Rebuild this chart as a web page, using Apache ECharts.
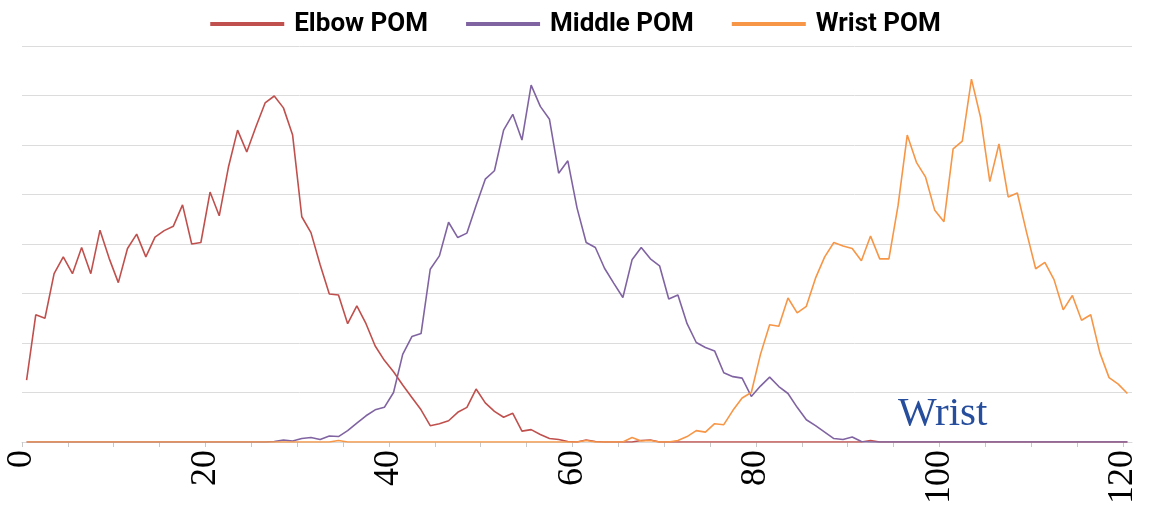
<!DOCTYPE html>
<html>
<head>
<meta charset="utf-8">
<title>POM distribution</title>
<script src="https://cdn.jsdelivr.net/npm/echarts@6/dist/echarts.min.js"></script>
<style>
  html, body { margin: 0; padding: 0; background: #fff; }
  #chart { width: 1151px; height: 507px; }
</style>
</head>
<body>
<div id="chart"></div>
<script>
// Per-bin values (bins 0..120, one unit wide)
const elbowPOM = [
  1.25, 2.57, 2.50, 3.40, 3.74, 3.40, 3.93, 3.40, 4.28, 3.71,
  3.22, 3.91, 4.20, 3.74, 4.14, 4.27, 4.36, 4.79, 4.00, 4.03,
  5.05, 4.57, 5.55, 6.30, 5.86, 6.37, 6.85, 6.99, 6.75, 6.20,
  4.55, 4.23, 3.58, 2.99, 2.97, 2.39, 2.75, 2.39, 1.94, 1.65,
  1.42, 1.15, 0.90, 0.65, 0.33, 0.37, 0.43, 0.60, 0.70, 1.07,
  0.79, 0.62, 0.50, 0.58, 0.22, 0.25, 0.15, 0.07, 0.05, 0.01,
  0.00, 0.04, 0.01, 0.00, 0.00, 0.00, 0.00, 0.03, 0.04, 0.00,
  0.00, 0.00, 0.00, 0.00, 0.00, 0.00, 0.00, 0.00, 0.00, 0.00,
  0.00, 0.00, 0.00, 0.00, 0.00, 0.00, 0.00, 0.00, 0.00, 0.00,
  0.00, 0.00, 0.03, 0.00, 0.00, 0.00, 0.00, 0.00, 0.00, 0.00,
  0.00, 0.00, 0.00, 0.00, 0.00, 0.00, 0.00, 0.00, 0.00, 0.00,
  0.00, 0.00, 0.00, 0.00, 0.00, 0.00, 0.00, 0.00, 0.00, 0.00,
  0.00
];

const middlePOM = [
  0.00, 0.00, 0.00, 0.00, 0.00, 0.00, 0.00, 0.00, 0.00, 0.00,
  0.00, 0.00, 0.00, 0.00, 0.00, 0.00, 0.00, 0.00, 0.00, 0.00,
  0.00, 0.00, 0.00, 0.00, 0.00, 0.00, 0.00, 0.01, 0.04, 0.02,
  0.07, 0.09, 0.05, 0.12, 0.11, 0.23, 0.38, 0.53, 0.65, 0.70,
  1.00, 1.77, 2.13, 2.19, 3.49, 3.76, 4.44, 4.13, 4.22, 4.78,
  5.31, 5.48, 6.30, 6.62, 6.10, 7.21, 6.78, 6.52, 5.43, 5.68,
  4.73, 4.03, 3.93, 3.51, 3.21, 2.92, 3.68, 3.93, 3.70, 3.56,
  2.89, 2.97, 2.39, 2.01, 1.91, 1.84, 1.40, 1.32, 1.29, 0.92,
  1.13, 1.31, 1.12, 0.98, 0.70, 0.45, 0.33, 0.20, 0.07, 0.05,
  0.10, 0.01, 0.00, 0.00, 0.00, 0.00, 0.00, 0.00, 0.00, 0.00,
  0.00, 0.00, 0.00, 0.00, 0.00, 0.00, 0.00, 0.00, 0.00, 0.00,
  0.00, 0.00, 0.00, 0.00, 0.00, 0.00, 0.00, 0.00, 0.00, 0.00,
  0.00
];

const wristPOM = [
  0.00, 0.00, 0.00, 0.00, 0.00, 0.00, 0.00, 0.00, 0.00, 0.00,
  0.00, 0.00, 0.00, 0.00, 0.00, 0.00, 0.00, 0.00, 0.00, 0.00,
  0.00, 0.00, 0.00, 0.00, 0.00, 0.00, 0.00, 0.00, 0.00, 0.00,
  0.00, 0.00, 0.00, 0.00, 0.03, 0.00, 0.00, 0.00, 0.00, 0.00,
  0.00, 0.00, 0.00, 0.00, 0.00, 0.00, 0.00, 0.00, 0.00, 0.00,
  0.00, 0.00, 0.00, 0.00, 0.00, 0.00, 0.00, 0.00, 0.00, 0.00,
  0.00, 0.03, 0.00, 0.00, 0.00, 0.00, 0.09, 0.02, 0.03, 0.00,
  0.00, 0.03, 0.11, 0.23, 0.20, 0.37, 0.35, 0.64, 0.89, 1.00,
  1.77, 2.37, 2.34, 2.91, 2.61, 2.74, 3.31, 3.74, 4.03, 3.96,
  3.91, 3.66, 4.16, 3.70, 3.70, 4.78, 6.20, 5.65, 5.35, 4.68,
  4.45, 5.92, 6.08, 7.33, 6.55, 5.26, 6.02, 4.95, 5.03, 4.24,
  3.50, 3.63, 3.28, 2.67, 2.96, 2.46, 2.57, 1.80, 1.30, 1.17,
  0.98
];

const seriesNames = ['Elbow POM', 'Middle POM', 'Wrist POM'];
const seriesColors = ['#c0504d', '#8064a2', '#f79646'];
const tickValues = [0, 5, 10, 15, 20, 25, 30, 35, 40, 45, 50, 55, 60,
                    65, 70, 75, 80, 85, 90, 95, 100, 105, 110, 115, 120];
const tickLabels = [0, 20, 40, 60, 80, 100, 120];
const highlightedLabel = 100;
const annotationText = 'Wrist';

// each value sits in the middle of its unit-wide bin
const binCenters = elbowPOM.map((_, i) => i + 0.5);
const toPairs = values => values.map((v, i) => [binCenters[i], v]);

const chart = echarts.init(document.getElementById('chart'));

chart.setOption({
  animation: false,
  backgroundColor: '#ffffff',
  color: seriesColors,
  legend: {
    top: 6,
    left: 'center',
    icon: 'rect',
    itemWidth: 74,
    itemHeight: 4,
    itemGap: 38,
    textStyle: {
      fontFamily: 'Roboto',
      fontWeight: 'bold',
      fontSize: 26,
      color: '#000000',
      padding: [0, 0, 0, 5]
    },
    data: seriesNames
  },
  grid: { left: 22, right: 19, top: 46, bottom: 62, containLabel: false },
  xAxis: {
    type: 'value',
    min: 0,
    max: 121,
    splitLine: { show: false },
    axisLine: { show: true, lineStyle: { color: '#d9d9d9', width: 1 } },
    axisTick: {
      show: true,
      length: 5,
      customValues: tickValues,
      lineStyle: { color: '#c8c8c8' }
    },
    axisLabel: {
      customValues: tickLabels,
      rotate: 90,
      margin: 8,
      fontFamily: 'Liberation Serif',
      fontSize: 36,
      color: v => (v === highlightedLabel ? '#274e9c' : '#000000')
    }
  },
  yAxis: {
    type: 'value',
    min: 0,
    max: 8,
    interval: 1,
    axisLine: { show: false },
    axisTick: { show: false },
    axisLabel: { show: false },
    splitLine: { show: true, lineStyle: { color: '#dcdcdc', width: 1 } }
  },
  graphic: [{
    type: 'text',
    left: 898,
    top: 394,
    style: {
      text: annotationText,
      font: '41px "Liberation Serif"',
      fill: '#274e9c'
    }
  }],
  series: [elbowPOM, middlePOM, wristPOM].map((values, k) => ({
    name: seriesNames[k],
    type: 'line',
    data: toPairs(values),
    symbol: 'none',
    lineStyle: { width: 1.6, color: seriesColors[k] },
    itemStyle: { color: seriesColors[k] }
  }))
});
</script>
</body>
</html>
